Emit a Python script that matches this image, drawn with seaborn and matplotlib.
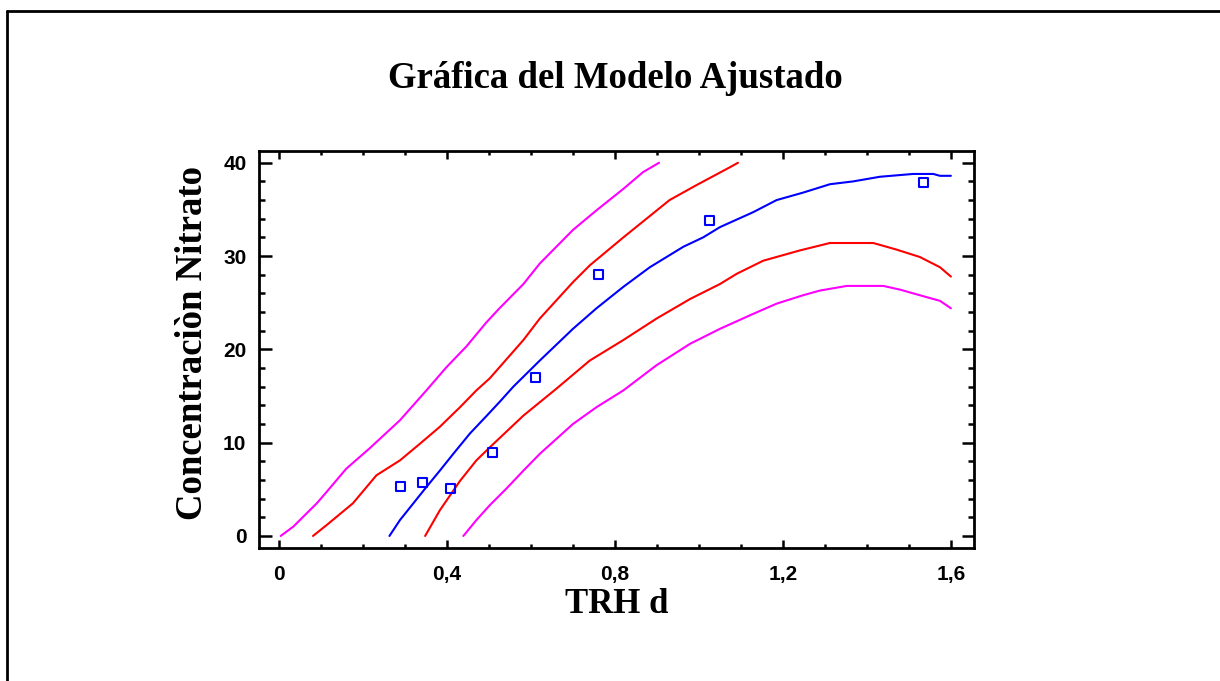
import numpy as np
import pandas as pd
import matplotlib
matplotlib.use("Agg")
import matplotlib.pyplot as plt
from matplotlib.lines import Line2D
from matplotlib.ticker import MultipleLocator, FixedLocator
import seaborn as sns

# ---- data ----
obs_x = [0.29, 0.342, 0.409, 0.509, 0.61, 0.762, 1.024, 1.534]
obs_y = [5.25, 5.7, 5.1, 8.9, 17.0, 28.0, 33.8, 37.9]

fit_x = [0.263, 0.288, 0.32, 0.352, 0.383, 0.415, 0.455, 0.495, 0.526, 0.558, 0.621,
         0.70, 0.756, 0.82, 0.883, 0.963, 1.01, 1.05, 1.129, 1.185, 1.248, 1.312,
         1.367, 1.431, 1.51, 1.558, 1.574, 1.6]
fit_y = [0, 1.7, 3.5, 5.3, 7.0, 8.8, 11.0, 12.9, 14.4, 16.0, 18.8, 22.2, 24.4, 26.7,
         28.8, 31.0, 32.0, 33.1, 34.7, 36.0, 36.8, 37.7, 38.0, 38.5, 38.8, 38.8, 38.6, 38.6]

conf_up_x = [0.081, 0.113, 0.176, 0.232, 0.288, 0.336, 0.383, 0.431, 0.47, 0.502, 0.582,
             0.621, 0.70, 0.74, 0.82, 0.875, 0.93, 0.994, 1.073, 1.093]
conf_up_y = [0, 1.15, 3.5, 6.5, 8.1, 9.9, 11.7, 13.8, 15.6, 16.9, 21.0, 23.3, 27.2, 29.0,
             32.0, 34.0, 36.0, 37.6, 39.5, 40.0]

conf_lo_x = [0.348, 0.383, 0.431, 0.47, 0.502, 0.582, 0.661, 0.74, 0.82, 0.899, 0.979,
             1.05, 1.09, 1.153, 1.24, 1.312, 1.415, 1.47, 1.526, 1.574, 1.6]
conf_lo_y = [0, 2.75, 5.9, 8.1, 9.5, 12.9, 15.8, 18.8, 21.0, 23.3, 25.4, 27.0, 28.1, 29.5,
             30.6, 31.4, 31.4, 30.7, 29.9, 28.8, 27.8]

pred_up_x = [0.004, 0.034, 0.09, 0.113, 0.16, 0.216, 0.288, 0.351, 0.399, 0.446, 0.494,
             0.525, 0.582, 0.621, 0.70, 0.756, 0.82, 0.867, 0.905]
pred_up_y = [0, 1.0, 3.5, 4.7, 7.2, 9.4, 12.4, 15.6, 18.1, 20.3, 22.9, 24.4, 27.0, 29.2,
             32.8, 34.9, 37.2, 39.0, 40.0]

pred_lo_x = [0.439, 0.47, 0.502, 0.542, 0.582, 0.621, 0.70, 0.756, 0.82, 0.899, 0.979,
             1.05, 1.129, 1.185, 1.248, 1.288, 1.352, 1.439, 1.479, 1.526, 1.574, 1.6]
pred_lo_y = [0, 1.7, 3.3, 5.1, 7.0, 8.8, 12.0, 13.8, 15.6, 18.3, 20.6, 22.2, 23.8, 24.9,
             25.8, 26.3, 26.8, 26.8, 26.4, 25.8, 25.2, 24.4]

x_ticks = [0, 0.4, 0.8, 1.2, 1.6]
x_tick_labels = ["0", "0,4", "0,8", "1,2", "1,6"]
y_ticks = [0, 10, 20, 30, 40]
y_tick_labels = ["0", "10", "20", "30", "40"]

title = "Gráfica del Modelo Ajustado"
xlabel = "TRH d"
ylabel = "Concentraciòn Nitrato"

# ---- figure ----
sns.set_style("white")
plt.rcParams['font.family'] = ['Liberation Sans', 'DejaVu Sans']
plt.rcParams['text.color'] = 'black'
plt.rcParams['axes.labelcolor'] = 'black'
plt.rcParams['xtick.color'] = 'black'
plt.rcParams['ytick.color'] = 'black'

fig = plt.figure(figsize=(12.2, 6.81), dpi=100)
ax = fig.add_axes([259 / 1220, 1 - 548 / 681, (974 - 259) / 1220, (548 - 151) / 681])

lw = 1.5
sns.lineplot(x=pred_up_x, y=pred_up_y, sort=False, estimator=None, color="#ff00ff", lw=lw, ax=ax)
sns.lineplot(x=pred_lo_x, y=pred_lo_y, sort=False, estimator=None, color="#ff00ff", lw=lw, ax=ax)
sns.lineplot(x=conf_up_x, y=conf_up_y, sort=False, estimator=None, color="#ff0000", lw=lw, ax=ax)
sns.lineplot(x=conf_lo_x, y=conf_lo_y, sort=False, estimator=None, color="#ff0000", lw=lw, ax=ax)
sns.lineplot(x=fit_x, y=fit_y, sort=False, estimator=None, color="#0000ff", lw=lw, ax=ax)
sns.scatterplot(x=obs_x, y=obs_y, marker="s", s=42, facecolor="none",
                edgecolor="#0000ff", linewidth=1.5, ax=ax, zorder=5)

ax.set_xlim(-0.0476, 1.655)
ax.set_ylim(-1.29, 41.26)

ax.xaxis.set_major_locator(FixedLocator(x_ticks))
ax.set_xticklabels(x_tick_labels)
ax.xaxis.set_minor_locator(MultipleLocator(0.1))
ax.yaxis.set_major_locator(FixedLocator(y_ticks))
ax.set_yticklabels(y_tick_labels)
ax.yaxis.set_minor_locator(MultipleLocator(2))

for s in ax.spines.values():
    s.set_visible(True)
    s.set_linewidth(2.0)
    s.set_color("black")

ax.tick_params(axis="x", which="major", direction="in", length=6, width=1.8,
               top=True, bottom=True, pad=12, labelsize=15, colors="black")
ax.tick_params(axis="x", which="minor", direction="in", length=3, width=1.8,
               top=True, bottom=True)
ax.tick_params(axis="y", which="major", direction="in", length=9, width=1.8,
               left=True, right=True, pad=9, labelsize=15, colors="black")
ax.tick_params(axis="y", which="minor", direction="in", length=4, width=1.8,
               left=True, right=True)
for lab in ax.get_xticklabels() + ax.get_yticklabels():
    lab.set_fontweight("bold")

serif = ['Liberation Serif', 'DejaVu Serif']
ax.set_xlabel(xlabel, family=serif, fontweight="bold", fontsize=25, color="black")
ax.set_ylabel(ylabel, family=serif, fontweight="bold", fontsize=26.5, color="black")
ax.xaxis.set_label_coords(0.50, -0.1)
ax.yaxis.set_label_coords(-0.068, 0.516)

fig.text(615.5 / 1220, 1 - 78 / 681, title, family=serif, fontweight="bold",
         fontsize=26.5, ha="center", va="center", color="black")

# outer frame (left and top edges visible)
fig.add_artist(Line2D([7 / 1220, 7 / 1220], [0, 1 - 10.5 / 681], transform=fig.transFigure,
                      color="black", lw=2.0))
fig.add_artist(Line2D([7 / 1220, 1], [1 - 10.5 / 681, 1 - 10.5 / 681], transform=fig.transFigure,
                      color="black", lw=2.0))

fig.savefig("out.png", dpi=100, facecolor="white")
